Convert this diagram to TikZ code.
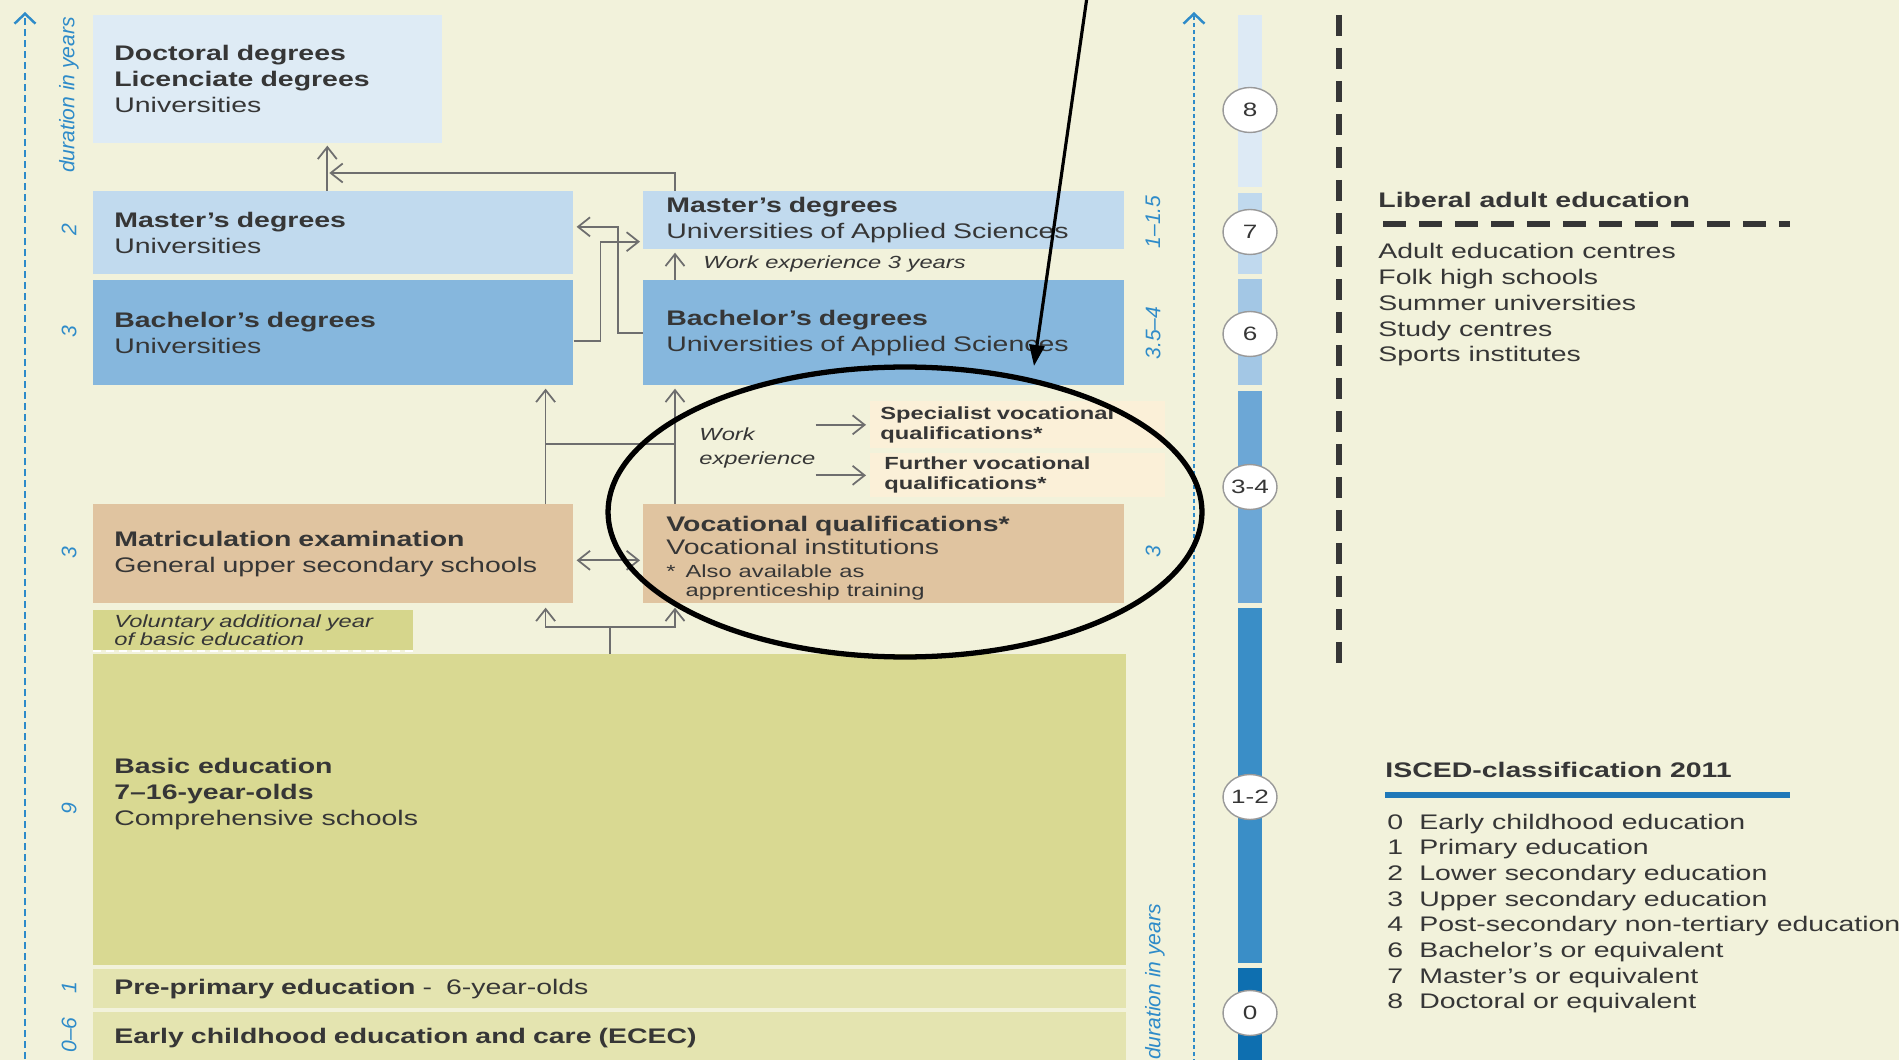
\documentclass[tikz,border=0pt]{standalone}
\usepackage{fontspec}
\setmainfont{Liberation Sans}[FakeStretch=1.35]
\newfontfamily\sidefont{Liberation Sans}
\usepackage{tikz}
\usetikzlibrary{arrows.meta, shapes.geometric}

\definecolor{cream}{HTML}{F2F2DB}
\definecolor{ink}{HTML}{363636}
\definecolor{linkgray}{HTML}{6E6E6E}
\definecolor{axisblue}{HTML}{2E8BC9}
\definecolor{doctblue}{HTML}{DEEBF5}
\definecolor{mastblue}{HTML}{C1DAEE}
\definecolor{bachblue}{HTML}{86B7DD}
\definecolor{uppertan}{HTML}{E0C4A0}
\definecolor{vocpale}{HTML}{FBF0D8}
\definecolor{basicolive}{HTML}{D9D992}
\definecolor{volunolive}{HTML}{D6D68C}
\definecolor{earlyolive}{HTML}{E4E4B0}
\definecolor{isced8}{HTML}{DDEAF5}
\definecolor{isced7}{HTML}{C0D9EE}
\definecolor{isced6}{HTML}{A3C7E5}
\definecolor{isced34}{HTML}{6CA7D6}
\definecolor{isced12}{HTML}{3A8EC7}
\definecolor{isced0}{HTML}{0E6FB0}
\definecolor{iscedline}{HTML}{1F78B8}

\begin{document}
\begin{tikzpicture}[x=0.02cm, y=-0.02cm,
        >={Straight Barb[length=2.4mm, width=3.8mm]},
        stage/.style={anchor=north west, inner xsep=0.42cm, inner ysep=0pt, align=left, text=ink, font=\fontsize{12}{14.8}\selectfont},
        note/.style={inner sep=0pt, align=left, text=ink, font=\itshape\fontsize{10}{11}\selectfont},
        link/.style={draw=linkgray, line width=1pt},
        years/.style={rotate=90, inner sep=0pt, text=axisblue, font=\fontsize{12}{12}\sidefont\itshape},
        axisline/.style={axisblue, line width=1.4pt, -{Straight Barb[length=2mm, width=4.2mm]}},
        level/.style={ellipse, draw=gray!80, fill=white, line width=0.8pt, minimum width=1.08cm, minimum height=0.9cm, inner sep=0pt, text=ink, font=\fontsize{11}{11}\selectfont},
        item/.style={anchor=base west, inner sep=0pt, text=ink, font=\fontsize{12}{12}\selectfont}]

    \fill[cream] (0,0) rectangle (1899,1060);
    \useasboundingbox (0,0) rectangle (1899,1060);

    % duration axes
    \coordinate (leftfoot) at (25,1070);
    \coordinate (lefttop) at (25,12);
    \draw[axisline, dash pattern=on 0.14cm off 0.08cm] (leftfoot) -- (lefttop);
    \coordinate (rightfoot) at (1194,1070);
    \coordinate (righttop) at (1194,12);
    \draw[axisline, dash pattern=on 0.08cm off 0.06cm] (rightfoot) -- (righttop);

    \node[years] at (69,95) (durleft) {duration in years};
    \node[years] at (1155,982) (durright) {duration in years};
    \foreach \y/\t in {230/2, 332/3, 553/3, 809/9, 988/1, 1035/0–6}
        \node[years] at (69,\y) (yl\y) {\t};
    \foreach \y/\t in {222/1–1.5, 333/3.5–4, 552/3}
        \node[years] at (1153,\y) (yr\y) {\t};

    % higher education
    \node[stage, fill=doctblue, text width=6.14cm, minimum height=2.56cm] at (93,15) (doct) {\textbf{Doctoral degrees}\\\textbf{Licenciate degrees}\\Universities};
    \node[stage, fill=mastblue, text width=8.76cm, minimum height=1.66cm] at (93,191) (mastU) {\textbf{Master’s degrees}\\Universities};
    \node[stage, fill=bachblue, text width=8.76cm, minimum height=2.1cm] at (93,280) (bachU) {\textbf{Bachelor’s degrees}\\Universities};
    \node[stage, fill=mastblue, inner xsep=0.46cm, text width=8.7cm, minimum height=1.16cm] at (643,191) (mastA) {\textbf{Master’s degrees}\\Universities of Applied Sciences};
    \node[stage, fill=bachblue, inner xsep=0.46cm, text width=8.7cm, minimum height=2.1cm] at (643,280) (bachA) {\textbf{Bachelor’s degrees}\\Universities of Applied Sciences};
    \node[note, anchor=west] at (703,264) (workthree) {Work experience 3 years};

    % upper secondary
    \node[stage, fill=vocpale, inner xsep=0.2cm, text width=5.5cm, minimum height=0.94cm, font=\bfseries\fontsize{10}{11.4}\selectfont] at (870,401) (spec) {Specialist vocational\\qualifications*};
    \node[stage, fill=vocpale, inner xsep=0.28cm, text width=5.34cm, minimum height=0.88cm, font=\bfseries\fontsize{10}{11.4}\selectfont] at (870,453) (furth) {Further vocational\\qualifications*};
    \node[note, anchor=west, font=\itshape\fontsize{10}{13.6}\selectfont] at (699,448) (work) {Work\\experience};
    \node[stage, fill=uppertan, text width=8.76cm, minimum height=1.98cm] at (93,504) (matric) {\textbf{Matriculation examination}\\General upper secondary schools};
    \node[stage, fill=uppertan, inner xsep=0.46cm, text width=8.7cm, minimum height=1.98cm, text height=0.52cm, font=\fontsize{12}{13}\selectfont] at (643,504) (voc) {\textbf{Vocational qualifications*}\\Vocational institutions\\{\fontsize{10}{11}\selectfont\begin{tabular}[t]{@{}l@{\hspace{0.2cm}}l@{}}*&Also available as\\&apprenticeship training\end{tabular}}};

    % basic education and below
    \node[stage, fill=volunolive, text width=5.56cm, minimum height=0.8cm, font=\itshape\fontsize{10}{10.3}\selectfont] at (93,610) (volun) {Voluntary additional year\\of basic education};
    \draw[white, line width=1.2pt, dash pattern=on 0.16cm off 0.1cm] (volun.south west) -- (volun.south east);
    \node[stage, fill=basicolive, text width=19.82cm, minimum height=6.22cm] at (93,654) (basic) {};
    \node[stage, anchor=west, inner xsep=0pt] at ([xshift=0.42cm, yshift=0.31cm]basic.west) (basiclbl) {\textbf{Basic education}\\\textbf{7–16-year-olds}\\Comprehensive schools};
    \node[stage, fill=earlyolive, text width=19.82cm, minimum height=0.78cm] at (93,969) (prepri) {\textbf{Pre-primary education} -\ \ 6-year-olds};
    \node[stage, fill=earlyolive, text width=19.82cm, minimum height=1.04cm] at (93,1012) (ecec) {\textbf{Early childhood education and care (ECEC)}};

    % connectors
    \draw[link, ->, shorten >=0.04cm] ([xshift=-0.12cm]mastU.north) -- ([xshift=-0.12cm]mastU.north |- doct.south);
    \draw[link, ->] ([xshift=0.64cm]mastA.north west) |- ([xshift=-0.08cm, yshift=0.36cm]mastU.north);
    \draw[link, ->] (bachA.west) -- ++(-0.5cm,0) |- ([xshift=0.06cm, yshift=0.12cm]mastU.east);
    \draw[link, ->] ([yshift=-0.16cm]bachU.east) -- ++(0.54cm,0) |- ([xshift=-0.06cm, yshift=0.16cm]mastA.south west);
    \draw[link, ->, shorten >=0.06cm] ([xshift=0.64cm]bachA.north west) -- ([xshift=0.64cm]mastA.south west);
    \draw[link, ->, shorten >=0.06cm] ([xshift=-0.56cm]matric.north east) -- ([xshift=-0.56cm]bachU.south east);
    \draw[link, ->, shorten >=0.06cm] ([xshift=0.64cm]voc.north west) -- ([xshift=0.64cm]bachA.south west);
    \draw[link] ([xshift=-0.56cm, yshift=1.2cm]matric.north east) -- ([xshift=0.64cm, yshift=1.2cm]voc.north west);
    \draw[link, <->] ([xshift=0.06cm, yshift=-0.13cm]matric.east) -- ([xshift=-0.06cm, yshift=-0.13cm]voc.west);
    \draw[link] (basic.north) -- ++(0,0.54cm) coordinate (fork);
    \draw[link, ->, shorten >=0.08cm] (fork) -| ([xshift=-0.56cm]matric.south east);
    \draw[link, ->, shorten >=0.08cm] (fork) -| ([xshift=0.64cm]voc.south west);
    \draw[link, ->, shorten >=0.08cm] (spec.west -| work.east) -- (spec.west);
    \draw[link, ->, shorten >=0.08cm] (furth.west -| work.east) -- (furth.west);

    % ISCED bar
    \foreach \top/\bot/\col in {15/187/isced8, 193/274/isced7, 279/385/isced6, 391/603/isced34, 608/963/isced12, 968/1060/isced0}
        \fill[\col] (1238,\top) rectangle (1262,\bot);
    \foreach \y/\t [count=\i] in {110/8, 232/7, 334/6, 487/3-4, 797/1-2, 1013/0}
        \node[level] at (1250,\y) (lv\i) {\t};

    % liberal adult education
    \draw[ink, line width=3.4pt, dash pattern=on 0.42cm off 0.24cm] (1339,15) -- (1339,670);
    \node[item, font=\bfseries\fontsize{12}{12}\selectfont] at (1378,208) (libhead) {Liberal adult education};
    \draw[ink, line width=3.4pt, dash pattern=on 0.46cm off 0.26cm] (1383,224) -- (1790,224);
    \foreach \t [count=\i] in {Adult education centres, Folk high schools, Summer universities, Study centres, Sports institutes}
        \node[item] at (1378,{233+25.8*\i}) (lib\i) {\t};

    % ISCED legend
    \node[item, font=\bfseries\fontsize{12}{12}\selectfont] at (1385,777) (iscedhead) {ISCED-classification 2011};
    \draw[iscedline, line width=3.4pt] (1385,795) -- (1790,795);
    \foreach \n/\t [count=\i] in {0/Early childhood education, 1/Primary education, 2/Lower secondary education, 3/Upper secondary education, 4/Post-secondary non-tertiary education, 6/Bachelor’s or equivalent, 7/Master’s or equivalent, 8/Doctoral or equivalent} {
        \node[item] at (1387,{803.3+25.7*\i}) (num\i) {\n};
        \node[item] at (1419,{803.3+25.7*\i}) (lev\i) {\t};
    }

    % highlight
    \node[ellipse, draw=black, line width=3pt, minimum width=11.88cm, minimum height=5.8cm, inner sep=0pt] at (905,512) (focus) {};
    \coordinate (pointer) at (1088,-10);
    \coordinate (tip) at (1034,366);
    \draw[black, line width=1.8pt, -{Triangle[length=0.42cm, width=0.3cm]}] (pointer) -- (tip);
\end{tikzpicture}
\end{document}
